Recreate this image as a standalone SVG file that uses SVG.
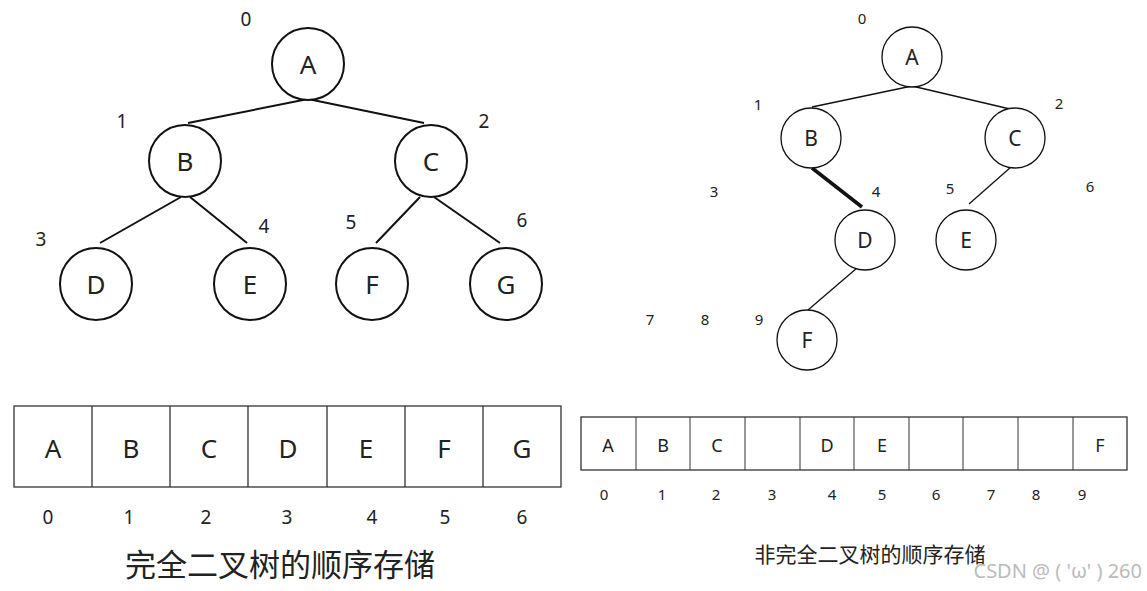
<svg xmlns="http://www.w3.org/2000/svg" width="1147" height="591" viewBox="0 0 1147 591">
<style>
text{font-family:"Noto Sans","Noto Sans CJK SC",sans-serif;fill:#222}
.n{fill:#fff;stroke:#111;stroke-width:2}
.n2{fill:#fff;stroke:#111;stroke-width:1.3}
.L{font-size:26px;text-anchor:middle}
.S{font-size:21px;text-anchor:middle}
.i{font-size:19px;text-anchor:middle}
.is{font-size:15px;text-anchor:middle}
.ra{font-size:18px;text-anchor:middle}
.c{fill:#fff;stroke:#333;stroke-width:1.3}
.e{stroke:#111;stroke-width:2;fill:none}
.e2{stroke:#111;stroke-width:1.3;fill:none}
</style>
<g id="connectors">
<path class="e" d="M188 123L308 99M308 99L424 123M181 197L100 243M190 197L247 243M420 197L376 243M434 197L500 243"/>
<path class="e2" d="M812 107L912 86M912 86L1010 109M969 204L1011 167M857 268L808 310"/>
<path d="M812 168L862 207" stroke="#111" stroke-width="3.5"/>
</g>
<g id="nA"><circle class="n" cx="308" cy="64" r="36"/><text class="L" x="308" y="74">A</text></g>
<g id="nB"><circle class="n" cx="185" cy="161" r="36"/><text class="L" x="185" y="171">B</text></g>
<g id="nC"><circle class="n" cx="431" cy="161" r="36"/><text class="L" x="431" y="171">C</text></g>
<g id="nD"><circle class="n" cx="96" cy="284" r="36"/><text class="L" x="96" y="294">D</text></g>
<g id="nE"><circle class="n" cx="250" cy="284" r="36"/><text class="L" x="250" y="294">E</text></g>
<g id="nF"><circle class="n" cx="372" cy="284" r="36"/><text class="L" x="372" y="294">F</text></g>
<g id="nG"><circle class="n" cx="506" cy="284" r="36"/><text class="L" x="506" y="294">G</text></g>
<g id="labels-left">
<text class="i" x="246" y="26">0</text><text class="i" x="122" y="128">1</text><text class="i" x="484" y="128">2</text>
<text class="i" x="41" y="246">3</text><text class="i" x="264" y="233">4</text><text class="i" x="351" y="229">5</text><text class="i" x="522" y="227">6</text>
</g>
<g id="rA"><circle class="n2" cx="912" cy="57" r="30"/><text class="S" x="912" y="65">A</text></g>
<g id="rB"><circle class="n2" cx="811" cy="138" r="30"/><text class="S" x="811" y="146">B</text></g>
<g id="rC"><circle class="n2" cx="1015" cy="138" r="30"/><text class="S" x="1015" y="146">C</text></g>
<g id="rD"><circle class="n2" cx="865" cy="240" r="30"/><text class="S" x="865" y="248">D</text></g>
<g id="rE"><circle class="n2" cx="966" cy="240" r="30"/><text class="S" x="966" y="248">E</text></g>
<g id="rF"><circle class="n2" cx="807" cy="340" r="30"/><text class="S" x="807" y="348">F</text></g>
<g id="labels-right">
<text class="is" x="862" y="24">0</text><text class="is" x="758" y="110">1</text><text class="is" x="1059" y="109">2</text>
<text class="is" x="714" y="197">3</text><text class="is" x="876" y="197">4</text><text class="is" x="950" y="194">5</text><text class="is" x="1090" y="192">6</text>
<text class="is" x="650" y="325">7</text><text class="is" x="705" y="325">8</text><text class="is" x="759" y="325">9</text>
</g>
<g id="array-left">
<rect class="c" x="14" y="406" width="547" height="81"/>
<path stroke="#333" stroke-width="1.3" d="M92 406V487M170 406V487M248 406V487M327 406V487M405 406V487M483 406V487"/>
<text class="L" x="53" y="458">A</text><text class="L" x="131" y="458">B</text><text class="L" x="209" y="458">C</text><text class="L" x="288" y="458">D</text><text class="L" x="366" y="458">E</text><text class="L" x="444" y="458">F</text><text class="L" x="522" y="458">G</text>
<text class="i" x="48" y="524">0</text><text class="i" x="129" y="524">1</text><text class="i" x="206" y="524">2</text><text class="i" x="287" y="524">3</text><text class="i" x="372" y="524">4</text><text class="i" x="445" y="524">5</text><text class="i" x="522" y="524">6</text>
<text x="280" y="576" style="font-size:31px" text-anchor="middle">完全二叉树的顺序存储</text>
</g>
<g id="array-right">
<rect class="c" x="581" y="417" width="546" height="53"/>
<path stroke="#333" stroke-width="1" d="M636 417V470M690 417V470M745 417V470M800 417V470M854 417V470M909 417V470M963 417V470M1018 417V470M1073 417V470"/>
<text class="ra" x="608" y="452">A</text><text class="ra" x="663" y="452">B</text><text class="ra" x="717" y="452">C</text><text class="ra" x="827" y="452">D</text><text class="ra" x="882" y="452">E</text><text class="ra" x="1100" y="452">F</text>
<text class="is" x="604" y="500">0</text><text class="is" x="662" y="500">1</text><text class="is" x="716" y="500">2</text><text class="is" x="772" y="500">3</text><text class="is" x="832" y="500">4</text><text class="is" x="882" y="500">5</text><text class="is" x="936" y="500">6</text><text class="is" x="991" y="500">7</text><text class="is" x="1036" y="500">8</text><text class="is" x="1082" y="500">9</text>
<text x="870" y="562" style="font-size:21px" text-anchor="middle">非完全二叉树的顺序存储</text>
<text x="1142" y="578" style="font-size:20px;fill:#bbb" text-anchor="end">CSDN @ ( 'ω' ) 260</text>
</g>
</svg>
